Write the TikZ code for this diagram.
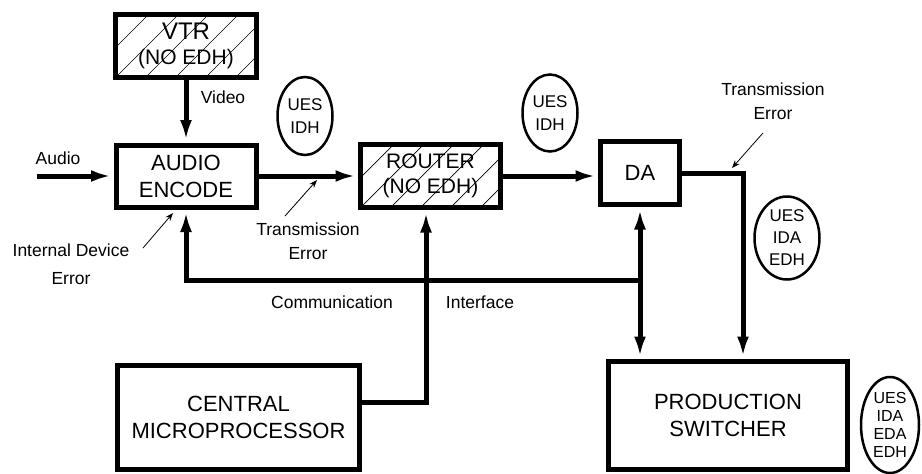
\documentclass[tikz,border=0pt]{standalone}
\usepackage{fontspec}
\setmainfont{Liberation Sans}
\usetikzlibrary{arrows.meta,shapes.geometric,calc}

\begin{document}
\begin{tikzpicture}[
            x=1pt, y=-1pt,
            every node/.append style={black},
            unit/.style={draw, line width=5pt, align=center, inner sep=0pt,
                font=\fontsize{22}{27}\selectfont},
            hatched/.style={unit, font=\fontsize{21}{25}\selectfont,
                path picture={
                    \foreach \k in {-60,-30,...,150}
                        \draw[line width=0.7pt]
                            ([xshift=\k pt]path picture bounding box.south west) -- ++(100pt,100pt);
                }},
            tag/.style={draw, ellipse, line width=2.5pt, inner sep=0pt, align=center,
                font=\fontsize{17}{23}\selectfont},
            lbl/.style={align=center, font=\fontsize{17.5}{24}\selectfont},
            link/.style={line width=5pt, shorten >=2.5pt, -{Latex[length=20pt,width=12pt]}},
            duplex/.style={link, shorten <=2.5pt, {Latex[length=20pt,width=12pt]}-{Latex[length=20pt,width=12pt]}},
            hint/.style={line width=0.8pt, -{Stealth[length=8pt,width=6pt]}}
        ]
            \useasboundingbox (0,0) rectangle (922,474);

            % blocks
            \node[hatched, minimum width=141pt, minimum height=63pt] (vtr) at (186,46) {{\fontsize{24}{25}\selectfont VTR}\\(NO EDH)};
            \node[unit, minimum width=140pt, minimum height=62pt] (enc) at (186,176) {AUDIO\\ENCODE};
            \node[hatched, minimum width=140pt, minimum height=63pt] (router) at (430.5,176) {ROUTER\\(NO EDH)};
            \node[unit, minimum width=79pt, minimum height=63pt] (da) at (640,173) {DA};
            \node[unit, minimum width=242pt, minimum height=104pt] (cpu) at (238.5,417.5) {CENTRAL\\MICROPROCESSOR};
            \node[unit, minimum width=239pt, minimum height=108pt] (ps) at (728,415.5) {PRODUCTION\\SWITCHER};

            % error tags
            \node[tag, minimum width=55pt, minimum height=78pt] (tagA) at (305,116) {UES\\IDH};
            \node[tag, minimum width=55pt, minimum height=77pt] (tagB) at (550,113) {UES\\IDH};
            \node[tag, minimum width=65pt, minimum height=83pt, font=\fontsize{17}{22}\selectfont] (tagC) at (787,238) {UES\\IDA\\EDH};
            \node[tag, minimum width=58pt, minimum height=96pt, font=\fontsize{16}{18}\selectfont] (tagD) at (890,425) {UES\\IDA\\EDA\\EDH};

            % signal path
            \coordinate (audio) at (37,176);
            \draw[link] (vtr) -- (enc);
            \draw[link] (audio) -- (enc.west);
            \draw[link] (enc) -- (router);
            \draw[link] (router.east) -- (router.east -| da.west);
            \draw[link] (da.east) -| ([xshift=15pt]ps.north);

            % communication interface
            \coordinate (tee) at (640,280);
            \draw[duplex] (da.south) -- (da.south |- ps.north);
            \draw[link] (tee) -| (enc.south);
            \draw[link] ([yshift=15.5pt]cpu.east) -| ([xshift=-4.5pt]router.south);

            % labels
            \node[lbl] (lAudio) at (58,158) {Audio};
            \node[lbl] (lVideo) at (223,97) {Video};
            \node[lbl, font=\fontsize{17.5}{28}\selectfont] (lIde) at (71,264) {Internal Device\\Error};
            \node[lbl] (lTx1) at (308,241) {Transmission\\Error};
            \node[lbl] (lTx2) at (773,101) {Transmission\\Error};
            \node[lbl] (lComm) at (332,302) {Communication};
            \node[lbl] (lIface) at (480,302) {Interface};

            % pointers
            \coordinate (ideTail) at (143,248);
            \coordinate (ideHead) at (173,213);
            \coordinate (tx1Tail) at (285,216);
            \coordinate (tx1Head) at (317,180);
            \coordinate (tx2Tail) at (763,133);
            \coordinate (tx2Head) at (732,168);
            \draw[hint] (ideTail) -- (ideHead);
            \draw[hint] (tx1Tail) -- (tx1Head);
            \draw[hint] (tx2Tail) -- (tx2Head);
        \end{tikzpicture}
\end{document}
